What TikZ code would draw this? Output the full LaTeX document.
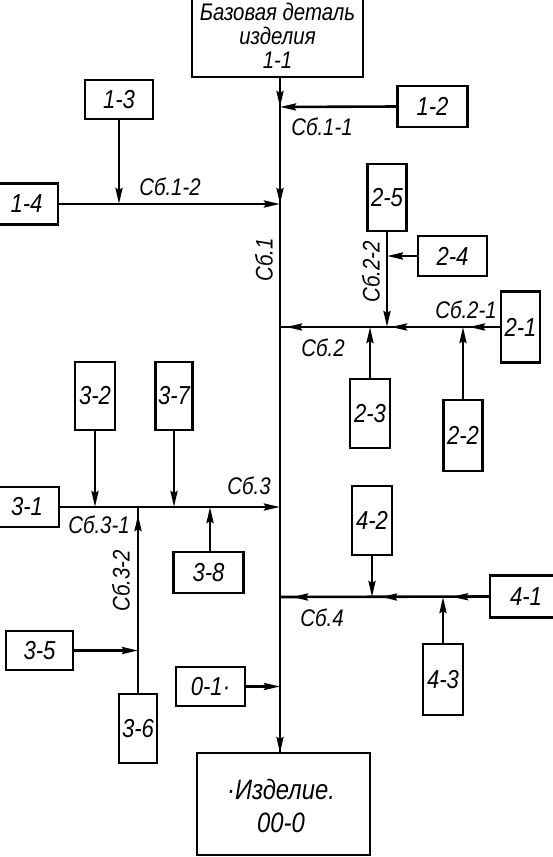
\documentclass[tikz,border=0pt]{standalone}
\usepackage{fontspec}
\setmainfont{Liberation Sans}
\newfontfamily\gost{Liberation Sans}[FakeStretch=0.85]
\usetikzlibrary{arrows.meta}
\begin{document}
\begin{tikzpicture}[x=1pt,y=-1pt,
  box/.style={draw, line width=2.5pt, inner sep=0pt, align=center,
    font=\gost\fontsize{26}{24}\selectfont\itshape},
  lbl/.style={inner sep=0pt, font=\gost\fontsize{24}{24}\selectfont\itshape},
  con/.style={line width=2.6pt},
  arr/.style={line width=2.6pt, -{Stealth[length=16pt,width=7pt,inset=2pt]}}]
\useasboundingbox (0,0) rectangle (553,857);
% boxes
\node[box, minimum width=171pt, minimum height=82pt, font=\gost\fontsize{24}{24}\selectfont\itshape] (b11) at (277.5,36) {Базовая деталь\\изделия\\1-1};
\node[box, minimum width=70pt, minimum height=41pt] (b12) at (432.5,106.5) {1-2};
\node[box, minimum width=68pt, minimum height=39pt] (b13) at (119,99.5) {1-3};
\node[box, minimum width=63pt, minimum height=41pt] (b14) at (26.5,204) {1-4};
\node[box, minimum width=39pt, minimum height=67pt] (b25) at (387,197.5) {2-5};
\node[box, minimum width=69pt, minimum height=40pt] (b24) at (452.5,256) {2-4};
\node[box, minimum width=39pt, minimum height=71pt] (b21) at (520.5,327) {2-1};
\node[box, minimum width=40pt, minimum height=69pt] (b23) at (370,413.5) {2-3};
\node[box, minimum width=39pt, minimum height=71pt] (b22) at (463,435.5) {2-2};
\node[box, minimum width=40pt, minimum height=68pt] (b32) at (95,396) {3-2};
\node[box, minimum width=37pt, minimum height=68pt] (b37) at (174,396) {3-7};
\node[box, minimum width=64pt, minimum height=40pt] (b31) at (27,507) {3-1};
\node[box, minimum width=70pt, minimum height=41pt] (b38) at (208.5,572.5) {3-8};
\node[box, minimum width=67pt, minimum height=39pt] (b35) at (39.5,650.5) {3-5};
\node[box, minimum width=38pt, minimum height=69pt] (b36) at (138,728.5) {3-6};
\node[box, minimum width=40pt, minimum height=69pt] (b42) at (372,520.5) {4-2};
\node[box, minimum width=72pt, minimum height=42pt] (b41) at (526,596.5) {4-1};
\node[box, minimum width=40pt, minimum height=71pt] (b43) at (443,679.5) {4-3};
\node[box, minimum width=69pt, minimum height=39pt] (b01) at (210.5,686.5) {0-1·};
\node[box, minimum width=173pt, minimum height=102pt] (b00) at (283.5,804) {};
\node[inner sep=0pt, font=\gost\fontsize{28}{28}\selectfont\itshape] (t00a) at (281,789) {·Изделие.};
\node[inner sep=0pt, font=\gost\fontsize{28}{28}\selectfont\itshape] (t00b) at (281,823) {00-0};
% junctions
\coordinate (m0) at (280,77);
\coordinate (j1) at (280,107);
\coordinate (j2) at (280,204);
\coordinate (jm2) at (280,327);
\coordinate (jm3) at (280,507);
\coordinate (jm4) at (280,597);
\coordinate (jm0) at (280,686.5);
\coordinate (mb) at (280,753);
\coordinate (j13) at (119,204);
\coordinate (j25) at (387,327);
\coordinate (j24) at (387,256);
\coordinate (j22) at (463,327);
\coordinate (j23) at (370,327);
\coordinate (j32) at (95,507);
\coordinate (j37) at (174,507);
\coordinate (j38) at (210,507);
\coordinate (j36) at (138,507);
\coordinate (j35) at (138,650.5);
\coordinate (j42) at (372,597);
\coordinate (j43) at (443,597);
% main line
\draw[con] (m0) -- (mb);
\draw[arr] (m0) -- (j1);
\draw[arr] (j1) -- (j2);
\draw[arr] (j2) -- (mb);
% Сб.1-1, Сб.1-2
\draw[arr] (b12.west) -- (j1);
\draw[arr] (b13.south) -- (j13);
\draw[arr] (b14.east) -- (j2);
% Сб.2
\draw[con] (b21.west) -- (jm2);
\draw[arr, shorten >=6pt] (b21.west) -- (j22);
\draw[arr, shorten >=4pt] (j22) -- (j25);
\draw[arr, shorten >=6pt] (j25) -- (jm2);
\draw[arr] (b25.south) -- (j25);
\draw[arr] (b24.west) -- (j24);
\draw[arr] (b23.north) -- (j23);
\draw[arr] (b22.north) -- (j22);
% Сб.3
\draw[arr] (b31.east) -- (jm3);
\draw[arr] (b32.south) -- (j32);
\draw[arr] (b37.south) -- (j37);
\draw[arr] (b38.north -| j38) -- (j38);
\draw[con] (b36.north) -- (j36);
\draw[arr, shorten >=8pt] (b36.north) -- (j36);
\draw[arr] (b35.east) -- (j35);
% Сб.4
\draw[con] (b41.west) -- (jm4);
\draw[arr, shorten >=9pt] (b41.west) -- (j43);
\draw[arr, shorten >=9pt] (j43) -- (j42);
\draw[arr, shorten >=12pt] (j42) -- (jm4);
\draw[arr] (b42.south) -- (j42);
\draw[arr] (b43.north) -- (j43);
% 0-1
\draw[arr] (b01.east) -- (jm0);
% labels
\node[lbl] (l11) at (322,127) {Сб.1-1};
\node[lbl] (l12) at (170,187) {Сб.1-2};
\node[lbl, rotate=90] (l1) at (264,260) {Сб.1};
\node[lbl, rotate=90] (l22) at (371,272) {Сб.2-2};
\node[lbl] (l21) at (466,310) {Сб.2-1};
\node[lbl] (l2) at (323,348) {Сб.2};
\node[lbl] (l3) at (249,486) {Сб.3};
\node[lbl] (l31) at (99,525) {Сб.3-1};
\node[lbl, rotate=90] (l32) at (121,581) {Сб.3-2};
\node[lbl] (l4) at (322,618) {Сб.4};
\end{tikzpicture}
\end{document}
